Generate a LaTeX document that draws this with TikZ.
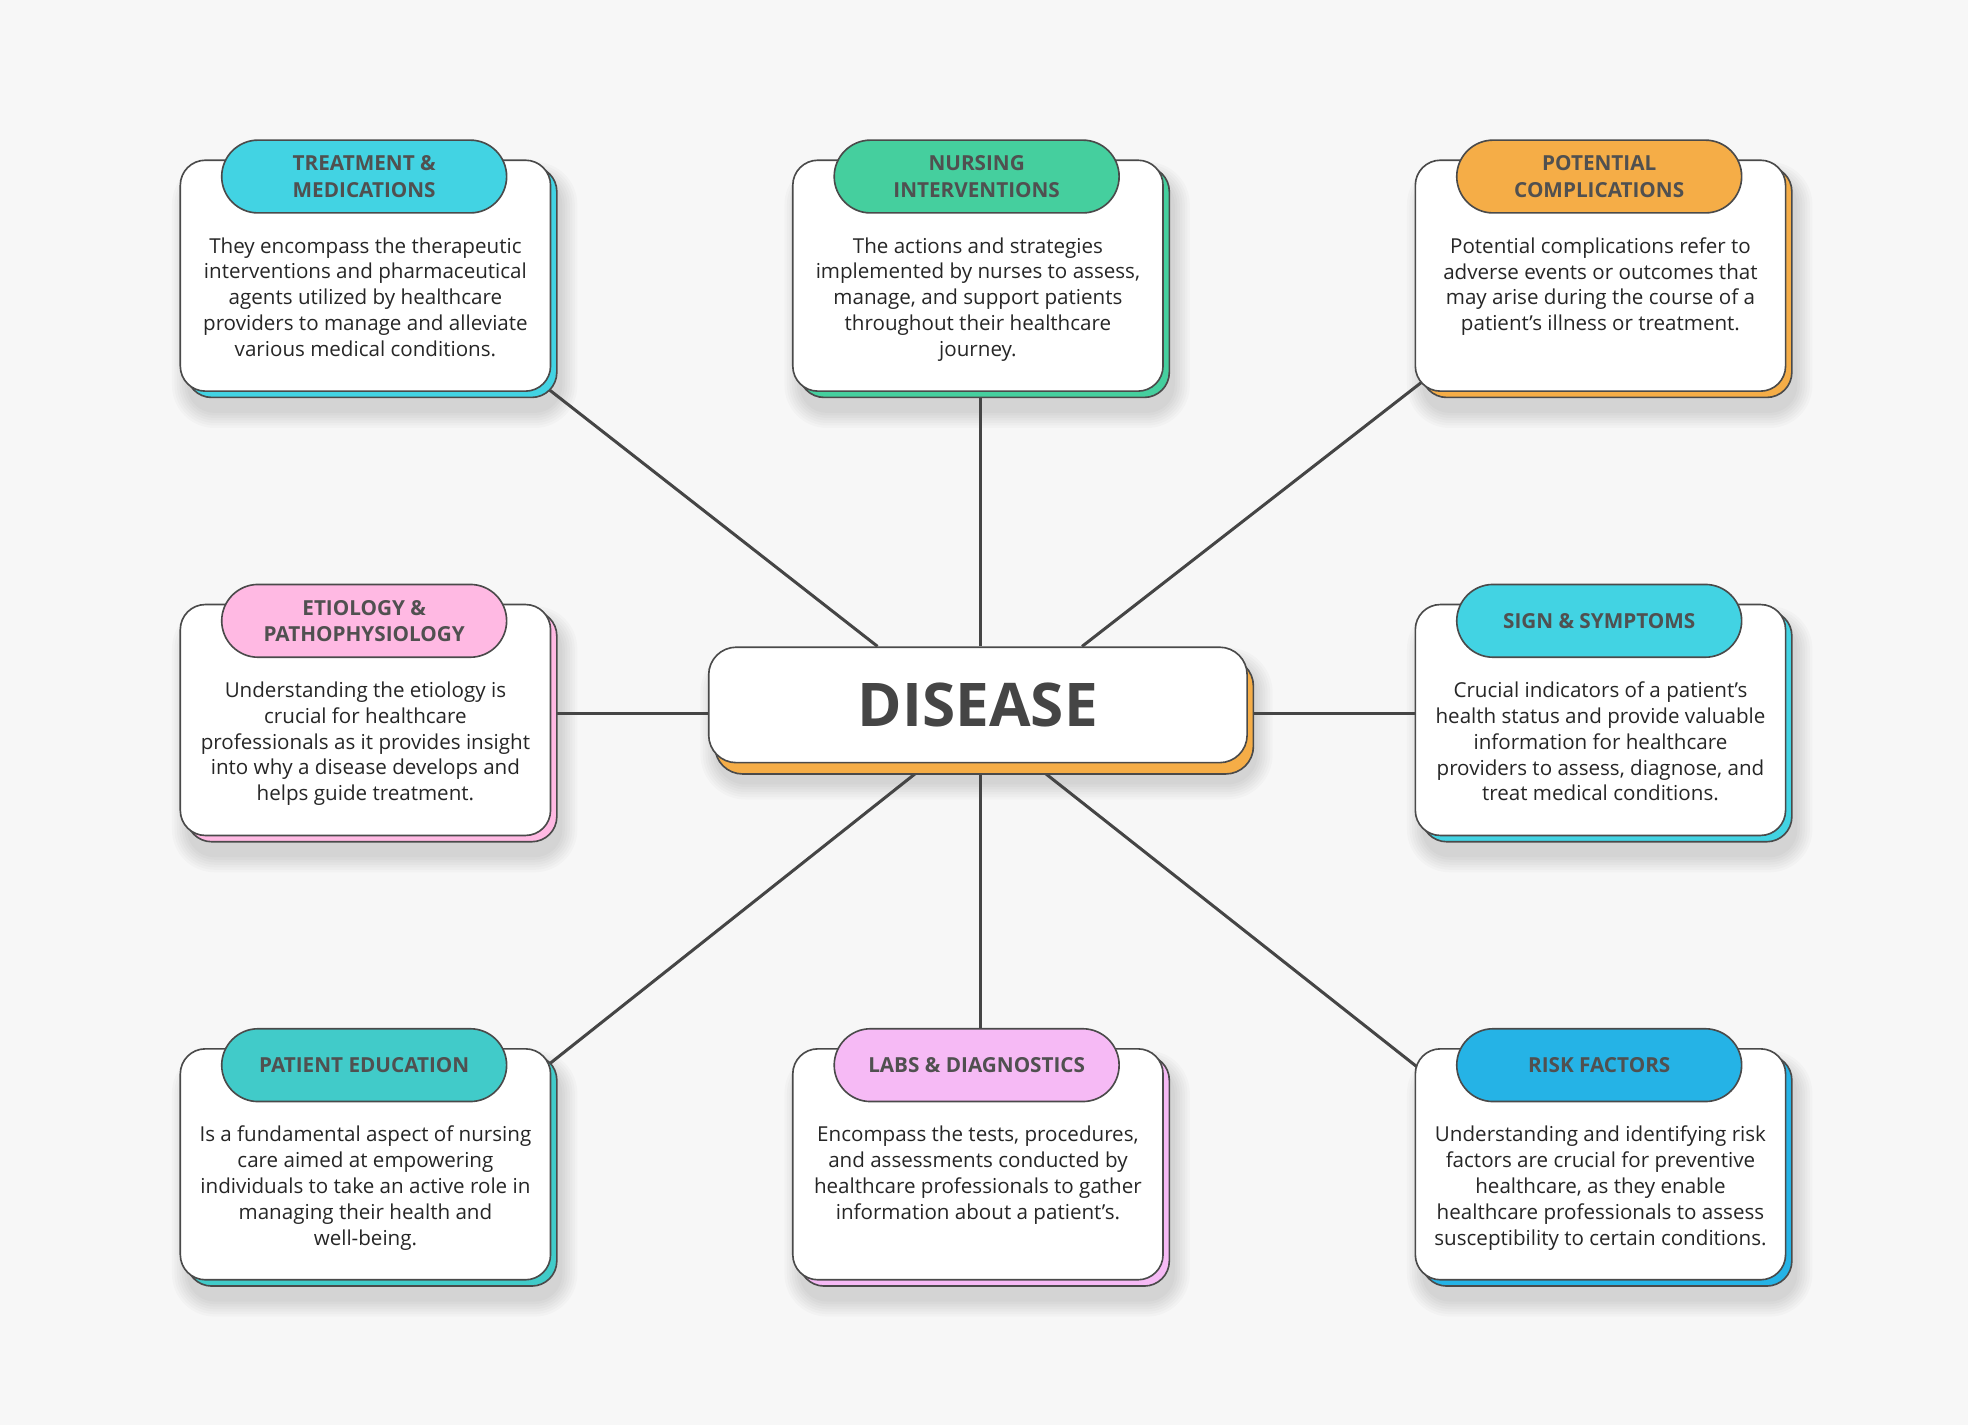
\documentclass[tikz,border=0pt]{standalone}
\usepackage{fontspec}
\setmainfont{Open Sans}
\usetikzlibrary{calc}
\definecolor{bgc}{HTML}{F7F7F7}
\definecolor{edge}{HTML}{4A4A4A}
\definecolor{linec}{HTML}{454545}
\definecolor{titlec}{HTML}{505050}
\definecolor{bodyc}{HTML}{262626}
\definecolor{discol}{HTML}{454545}
\definecolor{ccyan}{HTML}{42D3E3}
\definecolor{cgreen}{HTML}{45CF9E}
\definecolor{corange}{HTML}{F5AD47}
\definecolor{cpink}{HTML}{FFB9E3}
\definecolor{cteal}{HTML}{41CBC9}
\definecolor{clilac}{HTML}{F6BAF5}
\definecolor{cblue}{HTML}{25B3E6}
\pgfdeclarelayer{back}
\pgfdeclarelayer{bg}
\pgfsetlayers{back,bg,main}
\newcommand\bodyfnt{\fontsize{16.4}{20.6}\selectfont}
\newcommand\titlefnt{\fontsize{16.5}{21}\selectfont\bfseries}
\tikzset{
  cardbox/.style={draw=edge, line width=1.3pt, fill=white, rounded corners=20pt,
    minimum width=295pt, minimum height=184pt, anchor=north west, inner sep=0pt},
  backbox/.style={cardbox, fill=#1},
  softshadow/.style={fill=black, opacity=0.02},
  pill/.style={draw=edge, line width=1.3pt, fill=#1, rounded corners=29pt,
    minimum width=227pt, minimum height=58pt, inner sep=0pt, anchor=north west,
    font=\titlefnt, text=titlec, align=center},
  bodytext/.style={anchor=north, align=center, font=\bodyfnt, text=bodyc, inner sep=0pt},
  link/.style={draw=linec, line width=2.4pt},
}
\newcommand\mkcard[6]{%
  \begin{pgfonlayer}{back}
  \foreach \k in {1,...,7}{
    \fill[softshadow, rounded corners=20pt+\k*2pt]
      (#2+8-\k*2,#3+16-\k*2) rectangle (#2+303+\k*2,#3+200+\k*2);
  }
  \end{pgfonlayer}
  \node[backbox=#4] (#1b) at (#2+5,#3+5) {};
  \node[cardbox] (#1) at (#2,#3) {};
  \node[pill=#4] (#1p) at (#2+33,#3-16) {#5};
  \node[bodytext] (#1t) at ($(#1.north)+(0,62)$) {#6};
}
\begin{document}
\begin{tikzpicture}[x=1pt,y=-1pt]
\begin{pgfonlayer}{back}
\fill[bgc] (0,0) rectangle (1568,1135);
\end{pgfonlayer}
\useasboundingbox (0,0) rectangle (1568,1135);

% soft shadow of the central node
\begin{pgfonlayer}{back}
\foreach \k in {1,...,7}{
  \fill[softshadow, rounded corners=22pt+\k*2pt]
    (572-\k*2,530-\k*2) rectangle (1000+\k*2,623+\k*2);
}
\end{pgfonlayer}
% central node
\node[draw=edge, line width=1.3pt, fill=corange, rounded corners=22pt,
  minimum width=429pt, minimum height=92pt, anchor=north west, inner sep=0pt]
  (disb) at (569,524) {};
\node[draw=edge, line width=1.3pt, fill=white, rounded corners=22pt,
  minimum width=429pt, minimum height=92pt, anchor=north west, inner sep=0pt,
  font=\fontsize{48}{50}\selectfont\bfseries, text=discol]
  (dis) at (564,515) {DISEASE};

\mkcard{tm}{143}{127}{ccyan}{TREATMENT \&\\MEDICATIONS}{They encompass the therapeutic\\interventions and pharmaceutical\\agents utilized by healthcare\\providers to manage and alleviate\\various medical conditions.}
\mkcard{ni}{631}{127}{cgreen}{NURSING\\INTERVENTIONS}{The actions and strategies\\implemented by nurses to assess,\\manage, and support patients\\throughout their healthcare\\journey.}
\mkcard{pc}{1127}{127}{corange}{POTENTIAL\\COMPLICATIONS}{Potential complications refer to\\adverse events or outcomes that\\may arise during the course of a\\patient's illness or treatment.}
\mkcard{ep}{143}{481}{cpink}{ETIOLOGY \&\\PATHOPHYSIOLOGY}{Understanding the etiology is\\crucial for healthcare\\professionals as it provides insight\\into why a disease develops and\\helps guide treatment.}
\mkcard{ss}{1127}{481}{ccyan}{SIGN \& SYMPTOMS}{Crucial indicators of a patient's\\health status and provide valuable\\information for healthcare\\providers to assess, diagnose, and\\treat medical conditions.}
\mkcard{pe}{143}{835}{cteal}{PATIENT EDUCATION}{Is a fundamental aspect of nursing\\care aimed at empowering\\individuals to take an active role in\\managing their health and\\well-being.}
\mkcard{ld}{631}{835}{clilac}{LABS \& DIAGNOSTICS}{Encompass the tests, procedures,\\and assessments conducted by\\healthcare professionals to gather\\information about a patient's.}
\mkcard{rf}{1127}{835}{cblue}{RISK FACTORS}{Understanding and identifying risk\\factors are crucial for preventive\\healthcare, as they enable\\healthcare professionals to assess\\susceptibility to certain conditions.}

\begin{pgfonlayer}{bg}
\draw[link] ($(tm.south east)+(-2,-2)$) -- ($(dis.north)+(-80,0)$);
\draw[link] ($(ni.south)+(2,0)$) -- ($(dis.north)+(2,0)$);
\draw[link] ($(pc.south west)+(6,-8)$) -- ($(dis.north)+(83,0)$);
\draw[link] ($(ep.east)+(0,-5)$) -- ($(dis.west)+(0,7)$);
\draw[link] ($(ss.west)+(0,-5)$) -- ($(dis.east)+(0,7)$);
\draw[link] ($(pe.north east)+(-2,13)$) -- ($(dis.south)+(-46,5)$);
\draw[link] ($(ld.north)+(2,0)$) -- ($(dis.south)+(2,5)$);
\draw[link] ($(rf.north west)+(2,15)$) -- ($(dis.south)+(50,5)$);
\end{pgfonlayer}
\end{tikzpicture}
\end{document}
